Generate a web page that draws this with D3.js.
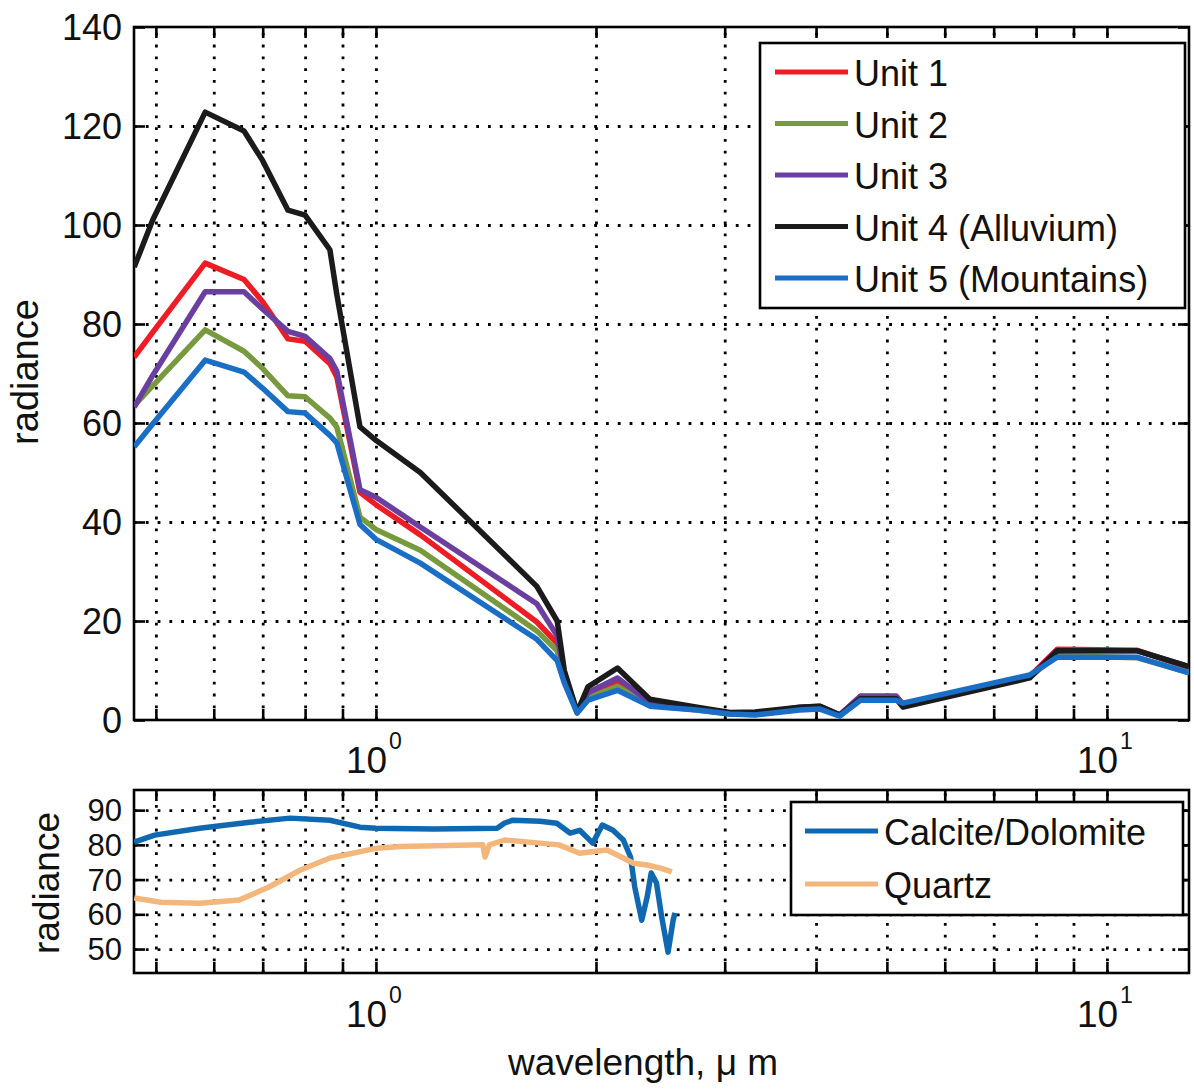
<!DOCTYPE html>
<html>
<head>
<meta charset="utf-8">
<script src="https://cdn.jsdelivr.net/npm/d3@7"></script>
<style>
  body { margin: 0; background: #fff; }
  svg text { font-family: "Liberation Sans", Arial, sans-serif; fill: #111; }
</style>
</head>
<body>
<div id="chart"></div>
<script>
// wavelengths (um) of the band points, upper panel
var bandWl = [0.467, 0.495, 0.584, 0.66, 0.70, 0.758, 0.80, 0.865, 0.884, 0.951, 1.0, 1.15,
              1.66, 1.77, 1.81, 1.885, 1.95, 2.14, 2.37, 2.75, 3.05, 3.3, 3.8, 4.05, 4.31,
              4.6, 5.15, 5.26, 7.84, 8.55, 10.98, 12.95];

var unit1 = [73.3, 78.3, 92.3, 89, 84.5, 77, 76.5, 72, 69.3, 46, 43.5, 37.4,
             19.8, 15.5, 8.5, 1.5, 5, 7.5, 3.3, 2.1, 1.3, 1.2, 2.5, 2.7, 1.0,
             4.8, 4.8, 3.2, 8.8, 14.3, 14.1, 10.6];
var unit2 = [63.5, 67.5, 78.8, 74.5, 71, 65.5, 65.3, 61, 59.2, 41, 38.5, 34.3,
             18, 14, 8, 1.5, 4.5, 6.8, 3, 2, 1.2, 1.1, 2.2, 2.4, 0.9,
             4.2, 4.2, 3.2, 8.7, 13, 12.6, 9.6];
var unit3 = [63.2, 69.6, 86.5, 86.5, 83, 78.5, 77.5, 73, 70.5, 46.5, 45, 39,
             23.5, 17, 9, 1.6, 5.5, 8.5, 3.5, 2.2, 1.3, 1.3, 2.6, 2.8, 1.0,
             4.8, 4.8, 3.2, 8.7, 14, 14, 10.8];
var unit4 = [91.5, 101, 122.8, 119, 113, 103, 102, 95, 86, 59.2, 56.5, 50,
             27, 20, 10, 1.6, 6.7, 10.5, 4.2, 2.6, 1.5, 1.6, 2.6, 2.8, 1.0,
             4.3, 4.3, 2.6, 8.5, 14, 14, 10.8];
var unit5 = [55.2, 59.8, 72.7, 70.3, 67, 62.3, 62, 57.5, 56, 39.5, 36.5, 31.7,
             16.3, 12, 7.5, 1.4, 4, 6, 2.8, 2.0, 1.2, 1.0, 2.0, 2.2, 0.8,
             4.0, 4.0, 3.4, 9.1, 12.7, 12.7, 9.5];

var unitNames = ["Unit 1", "Unit 2", "Unit 3", "Unit 4 (Alluvium)", "Unit 5 (Mountains)"];
var unitColors = ["#ee1c25", "#789a3f", "#6b3fa0", "#1b1b1b", "#1a6ec6"];

// lower panel, lab spectra
var calciteWl = [0.467, 0.498, 0.574, 0.672, 0.763, 0.865, 0.951, 1.0, 1.2, 1.465, 1.50, 1.539,
                 1.677, 1.768, 1.843, 1.90, 1.98, 2.04, 2.11, 2.18, 2.23, 2.26, 2.31, 2.35,
                 2.38, 2.42, 2.46, 2.51, 2.55, 2.565];
var calciteVal = [80.8, 82.8, 84.8, 86.5, 87.7, 87.1, 85.1, 84.8, 84.6, 84.8, 86.3, 87.1,
                  86.8, 86.2, 83.4, 84.2, 80.5, 85.7, 84.2, 81.4, 76.5, 67.8, 58.3, 65,
                  71.9, 69, 59.2, 49.1, 58.3, 60.4];
var quartzWl = [0.467, 0.508, 0.574, 0.65, 0.713, 0.787, 0.865, 1.0, 1.08, 1.40, 1.41, 1.43,
                1.50, 1.677, 1.78, 1.90, 2.07, 2.18, 2.25, 2.35, 2.45, 2.54];
var quartzVal = [64.7, 63.5, 63.2, 64.1, 67.8, 72.7, 76.2, 79, 79.5, 80, 76.5, 80,
                 81.4, 80.5, 80, 77.6, 78.5, 76.2, 74.7, 74.2, 73.3, 72.2];

var labNames = ["Calcite/Dolomite", "Quartz"];
var labColors = ["#0f68b0", "#f3b77c"];

var xTicks = [0.5, 0.6, 0.7, 0.8, 0.9, 1, 2, 3, 4, 5, 6, 7, 8, 9, 10];
var xMajor = [1, 10];
var topYTicks = [0, 20, 40, 60, 80, 100, 120, 140];
var lowYTicks = [50, 60, 70, 80, 90];

var W = 1194, H = 1092;
var left = 134, right = 1189;

var svg = d3.select('#chart').append('svg').attr('width', W).attr('height', H);

var x = d3.scaleLog().domain([0.4667, 12.95]).range([left, right]);

function panel(top, bottom, yDomain, yTicks, id) {
    var y = d3.scaleLinear().domain(yDomain).range([bottom, top]);
    var g = svg.append('g');

    // dotted grid
    var gridX = g.append('g').attr('transform', 'translate(0,' + bottom + ')')
        .call(d3.axisBottom(x).tickValues(xTicks).tickSize(-(bottom - top)).tickFormat(''));
    var gridY = g.append('g').attr('transform', 'translate(' + left + ',0)')
        .call(d3.axisLeft(y).tickValues(yTicks.filter(function(v){ return y(v) > top + 1 && y(v) < bottom - 1; }))
        .tickSize(-(right - left)).tickFormat(''));
    [gridX, gridY].forEach(function(a){
        a.select('.domain').remove();
        a.selectAll('line').attr('stroke', '#000').attr('stroke-width', 2.8).attr('stroke-dasharray', '2.8,9');
    });

    g.append('clipPath').attr('id', id).append('rect')
        .attr('x', left).attr('y', top).attr('width', right - left).attr('height', bottom - top);

    // inward ticks on all four sides
    var sides = [
        [d3.axisBottom(x).tickValues(xTicks), 'translate(0,' + bottom + ')'],
        [d3.axisTop(x).tickValues(xTicks), 'translate(0,' + top + ')'],
        [d3.axisLeft(y).tickValues(yTicks), 'translate(' + left + ',0)'],
        [d3.axisRight(y).tickValues(yTicks), 'translate(' + right + ',0)']
    ];
    sides.forEach(function(s){
        var a = g.append('g').attr('transform', s[1]).call(s[0].tickSize(-11).tickFormat(''));
        a.select('.domain').remove();
        a.selectAll('line').attr('stroke', '#000').attr('stroke-width', 2.6);
    });

    g.append('rect').attr('x', left).attr('y', top).attr('width', right - left).attr('height', bottom - top)
        .attr('fill', 'none').attr('stroke', '#000').attr('stroke-width', 2.6);

    return {g: g, y: y};
}

function yLabels(p, ticks, size) {
    p.g.selectAll(null).data(ticks).enter().append('text')
        .attr('x', 122).attr('y', function(d){ return p.y(d); })
        .attr('dy', '0.36em').attr('text-anchor', 'end')
        .style('font-size', size + 'px').text(function(d){ return d; });
}

function xLabels(p, yBase) {
    xMajor.forEach(function(v){
        var t = p.g.append('text').attr('x', x(v) - 30).attr('y', yBase)
            .style('font-size', '37px');
        t.append('tspan').text('10');
        t.append('tspan').attr('dy', -24).attr('dx', 2).style('font-size', '23px')
            .text(Math.round(Math.log10(v)));
    });
}

var line = d3.line().x(function(d){ return x(d[0]); });

// ---------- upper panel ----------
var up = panel(27, 720, [0, 140], topYTicks, 'clipTop');
var units = [unit1, unit2, unit3, unit4, unit5];
line.y(function(d){ return up.y(d[1]); });
units.forEach(function(vals, i){
    up.g.append('path')
        .datum(bandWl.map(function(w, k){ return [w, vals[k]]; }))
        .attr('d', line)
        .attr('clip-path', 'url(#clipTop)')
        .attr('fill', 'none').attr('stroke', unitColors[i])
        .attr('stroke-width', 5.5).attr('stroke-linejoin', 'round');
});
yLabels(up, topYTicks, 36);
xLabels(up, 773);

up.g.append('text').attr('transform', 'translate(38,372) rotate(-90)')
    .attr('text-anchor', 'middle').style('font-size', '38px').text('radiance');

// legend
var lg = up.g.append('g');
lg.append('rect').attr('x', 760).attr('y', 43).attr('width', 425).attr('height', 265)
    .attr('fill', '#fff').attr('stroke', '#000').attr('stroke-width', 2.6);
unitNames.forEach(function(n, i){
    var yy = 72 + i * 51.5;
    lg.append('line').attr('x1', 775).attr('x2', 848).attr('y1', yy).attr('y2', yy)
        .attr('stroke', unitColors[i]).attr('stroke-width', 5);
    lg.append('text').attr('x', 854).attr('y', yy + 14).style('font-size', '36px').text(n);
});

// ---------- lower panel ----------
var low = panel(790, 973, [43.1, 95.8], lowYTicks, 'clipLow');
line.y(function(d){ return low.y(d[1]); });
[[calciteWl, calciteVal], [quartzWl, quartzVal]].forEach(function(s, i){
    low.g.append('path')
        .datum(s[0].map(function(w, k){ return [w, s[1][k]]; }))
        .attr('d', line)
        .attr('clip-path', 'url(#clipLow)')
        .attr('fill', 'none').attr('stroke', labColors[i])
        .attr('stroke-width', 5.5).attr('stroke-linejoin', 'round');
});
yLabels(low, lowYTicks, 31);
xLabels(low, 1027);

low.g.append('text').attr('transform', 'translate(59,883) rotate(-90)')
    .attr('text-anchor', 'middle').style('font-size', '37px').text('radiance');

var lg2 = low.g.append('g');
lg2.append('rect').attr('x', 791).attr('y', 802).attr('width', 392).attr('height', 113)
    .attr('fill', '#fff').attr('stroke', '#000').attr('stroke-width', 2.6);
labNames.forEach(function(n, i){
    var yy = 831 + i * 53;
    lg2.append('line').attr('x1', 805).attr('x2', 878).attr('y1', yy).attr('y2', yy)
        .attr('stroke', labColors[i]).attr('stroke-width', 5);
    lg2.append('text').attr('x', 884).attr('y', yy + 14).style('font-size', '36px').text(n);
});

svg.append('text').attr('x', 643).attr('y', 1075).attr('text-anchor', 'middle')
    .style('font-size', '37px').text('wavelength, \u03bc m');
</script>
</body>
</html>
